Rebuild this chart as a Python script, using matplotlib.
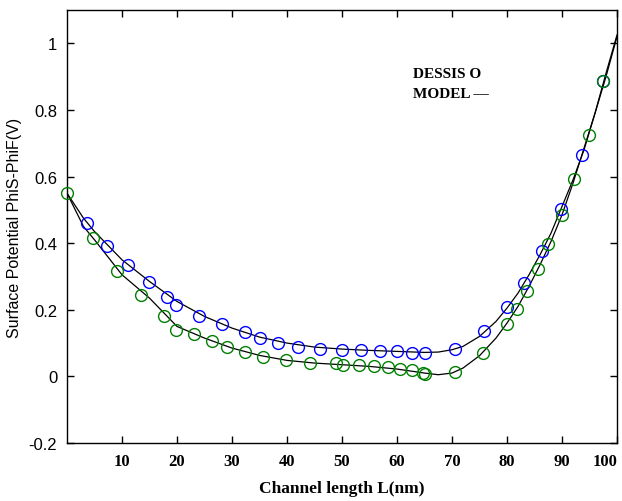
import matplotlib
matplotlib.use("Agg")
import matplotlib.pyplot as plt

# ─── Data ────────────────────────────────────────────────────────────────────

blue_x = [3.6, 7.3, 11.1, 14.9, 18.1, 19.9, 24.0, 28.1, 32.4, 35.0, 38.3, 42.0,
          46.0, 50.0, 53.5, 56.9, 60.0, 62.8, 65.0, 70.5, 75.9, 80.0, 83.1,
          86.3, 89.8, 93.6, 97.5]
blue_y = [0.46, 0.39, 0.334, 0.284, 0.239, 0.215, 0.18, 0.158, 0.132, 0.116,
          0.10, 0.089, 0.083, 0.080, 0.080, 0.075, 0.077, 0.071, 0.069, 0.083,
          0.135, 0.209, 0.28, 0.376, 0.504, 0.666, 0.887]

green_x = [0.0, 4.7, 9.1, 13.4, 17.7, 19.8, 23.1, 26.3, 29.0, 32.3, 35.7, 39.8,
           44.1, 48.9, 50.1, 53.0, 55.9, 58.4, 60.5, 62.8, 64.8, 65.1, 70.5,
           75.6, 80.0, 81.8, 83.6, 85.6, 87.5, 90.0, 92.2, 94.9, 97.5]
green_y = [0.55, 0.415, 0.316, 0.245, 0.18, 0.14, 0.128, 0.105, 0.089, 0.074,
           0.059, 0.048, 0.041, 0.039, 0.034, 0.034, 0.030, 0.027, 0.021, 0.018,
           0.009, 0.006, 0.014, 0.069, 0.158, 0.203, 0.255, 0.322, 0.396, 0.484,
           0.594, 0.725, 0.887]

model_x = [0, 3, 5, 10, 15, 20, 25, 30, 35, 40, 45, 50, 55, 60, 65, 67.5, 70,
           72, 75, 78, 80, 82, 84, 86, 88, 90, 92, 94, 96, 98, 100]
model_blue = [0.55, 0.475, 0.435, 0.35, 0.285, 0.225, 0.18, 0.145, 0.118, 0.10,
              0.088, 0.082, 0.078, 0.075, 0.072, 0.073, 0.08, 0.09, 0.12,
              0.165, 0.205, 0.25, 0.305, 0.365, 0.43, 0.51, 0.59, 0.68, 0.79,
              0.91, 1.025]
model_green = [0.55, 0.45, 0.41, 0.305, 0.235, 0.15, 0.115, 0.085, 0.063, 0.048,
               0.04, 0.035, 0.03, 0.022, 0.01, 0.005, 0.01, 0.025, 0.062,
               0.115, 0.16, 0.21, 0.27, 0.335, 0.405, 0.485, 0.58, 0.685, 0.79,
               0.9, 1.02]

x_ticks = [10, 20, 30, 40, 50, 60, 70, 80, 90, 100]
y_ticks = [-0.2, 0, 0.2, 0.4, 0.6, 0.8, 1.0]
y_labels = ["-0.2", "0", "0.2", "0.4", "0.6", "0.8", "1"]

# ─── Figure ──────────────────────────────────────────────────────────────────

SANS = "Liberation Sans"
SERIF = "Liberation Serif"

fig = plt.figure(figsize=(6.22, 5.02), dpi=100, facecolor="white")
ax = fig.add_axes([67 / 622, 58 / 502, 550 / 622, 433 / 502])

ax.plot(model_x, model_blue, color="black", lw=0.9, zorder=2)
ax.plot(model_x, model_green, color="black", lw=0.9, zorder=2)
ax.plot(blue_x, blue_y, ls="none", marker="o", ms=8.5, mfc="none",
        mec="#0000ff", mew=1.0, zorder=3, clip_on=False)
ax.plot(green_x, green_y, ls="none", marker="o", ms=8.5, mfc="none",
        mec="#008000", mew=1.0, zorder=3, clip_on=False)

ax.set_xlim(0, 100)
ax.set_ylim(-0.2, 1.1)
ax.set_xticks(x_ticks)
xtl = ax.set_xticklabels([str(t) for t in x_ticks], fontfamily=SERIF,
                         fontweight="bold", fontsize=12)
# last label sits inside the canvas, as in the reference
xtl[-1].set_horizontalalignment("right")
ax.set_yticks(y_ticks)
ax.set_yticklabels(y_labels, fontfamily=SANS, fontsize=12)
ax.tick_params(direction="in", length=5, width=1, top=True, right=True,
               pad=7)
for sp in ax.spines.values():
    sp.set_linewidth(1.0)

ax.set_xlabel("Channel length L(nm)", fontfamily=SERIF, fontweight="bold",
              fontsize=12.5, labelpad=8)
ax.set_ylabel("Surface Potential PhiS-PhiF(V)", fontfamily=SANS, fontsize=11.5,
              labelpad=5)

ax.text(62.9, 0.91, "DESSIS O", fontfamily=SERIF, fontweight="bold",
        fontsize=11, va="center", ha="left")
ax.text(62.9, 0.848, "MODEL \u2014", fontfamily=SERIF, fontweight="bold",
        fontsize=11, va="center", ha="left")

fig.savefig("out.png", dpi=100, facecolor="white")
